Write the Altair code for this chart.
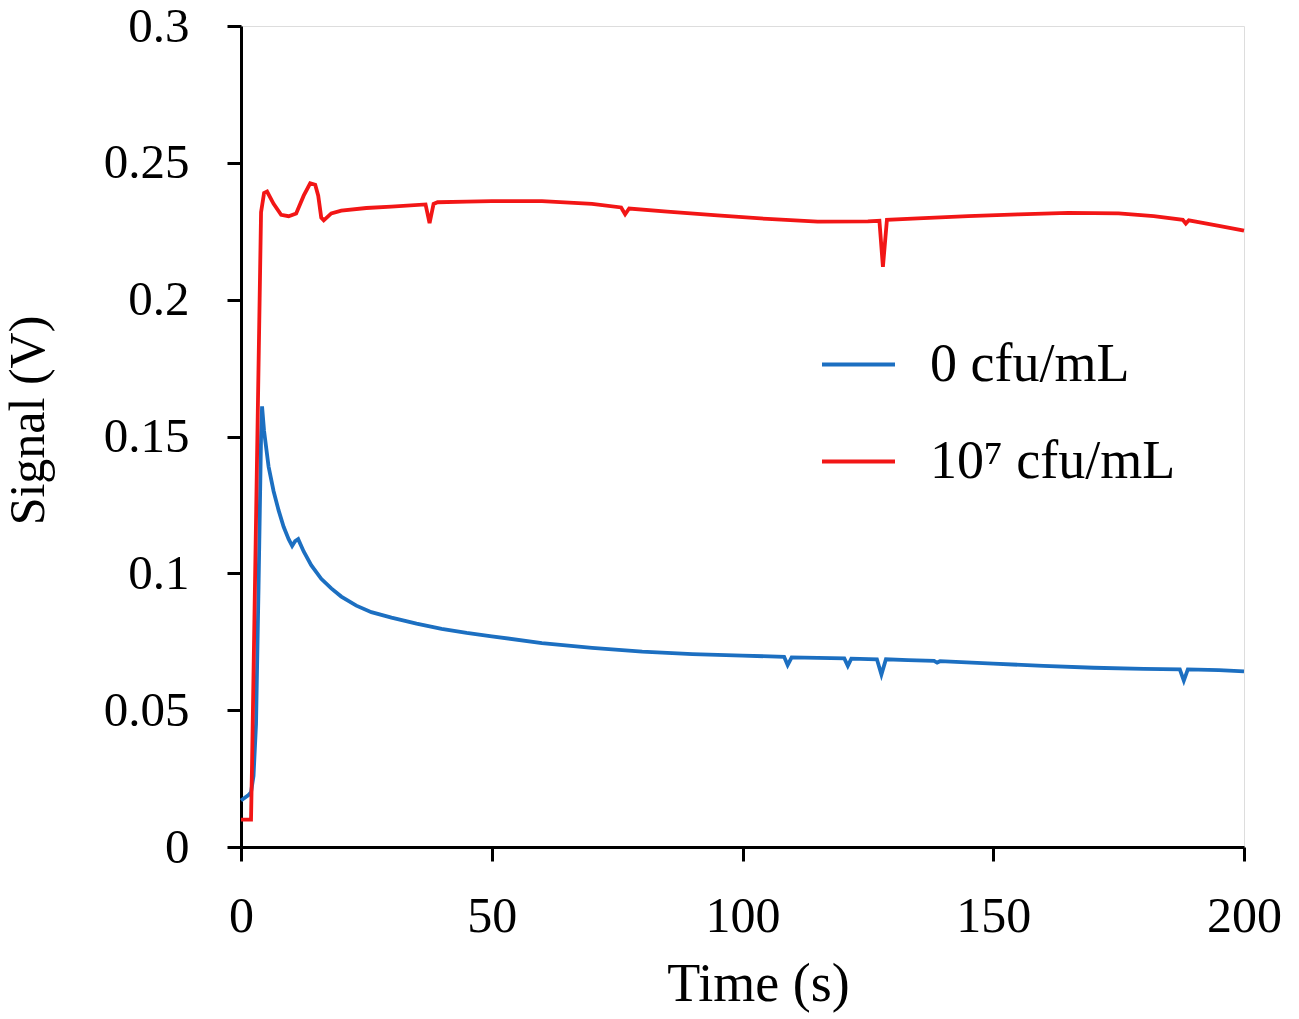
import altair as alt
import pandas as pd

series_names = ["0 cfu/mL", "10\u2077 cfu/mL"]
series_colors = ["#1c6fc1", "#f21616"]

# 0 cfu/mL (blue)
time_0 = [0, 1.5, 2.0, 2.5, 3.0, 3.5, 4.0, 4.2, 4.6, 5.5, 6.5, 7.5, 8.5, 9.5, 10.2,
          10.8, 11.4, 12.5, 14, 16, 18, 20, 23, 26, 30, 35, 40, 45, 50, 60, 70, 80,
          90, 100, 108.3, 109.0, 109.8, 115, 120.3, 121.0, 121.7, 126.8, 127.7, 128.6,
          133, 138.2, 138.8, 139.4, 150, 160, 170, 180, 187.2, 188.0, 188.8, 195, 200]
sig_0 = [0.017, 0.019, 0.020, 0.026, 0.045, 0.095, 0.150, 0.161, 0.152, 0.139, 0.130,
         0.123, 0.117, 0.1125, 0.1100, 0.1118, 0.1125, 0.108, 0.103, 0.098, 0.0945,
         0.0915, 0.0882, 0.0858, 0.0838, 0.0816, 0.0797, 0.0782, 0.0770, 0.0745,
         0.0728, 0.0714, 0.0705, 0.0699, 0.0695, 0.0665, 0.0693, 0.0691, 0.0689,
         0.0662, 0.0688, 0.0686, 0.0630, 0.0686, 0.0683, 0.0680, 0.0674, 0.0679,
         0.0670, 0.0662, 0.0655, 0.0651, 0.0649, 0.0608, 0.0649, 0.0646, 0.0642]

# 10^7 cfu/mL (red)
time_7 = [0, 2.0, 2.2, 4.0, 4.6, 5.2, 6.5, 8.0, 9.5, 11.0, 12.5, 13.8, 14.8, 15.4, 16.0,
          16.5, 18, 20, 25, 30, 36.8, 37.6, 38.4, 39.2, 45, 50, 60, 70, 75.8, 76.6,
          77.4, 85, 95, 105, 115, 125, 127.3, 128.0, 128.8, 135, 145, 155, 165, 175,
          182, 187.8, 188.4, 189.0, 195, 200]
sig_7 = [0.010, 0.010, 0.030, 0.232, 0.2390, 0.2395, 0.2350, 0.2310, 0.2305, 0.2315,
         0.2380, 0.2425, 0.2420, 0.2380, 0.2300, 0.2290, 0.2315, 0.2325, 0.2335,
         0.2340, 0.2348, 0.2280, 0.2350, 0.2356, 0.2358, 0.2360, 0.2360, 0.2350,
         0.2337, 0.2312, 0.2333, 0.2322, 0.2308, 0.2295, 0.2285, 0.2286, 0.2288,
         0.2120, 0.2292, 0.2297, 0.2305, 0.2312, 0.2317, 0.2315, 0.2305, 0.2292,
         0.2278, 0.2290, 0.2270, 0.2252]

x_ticks = [0, 50, 100, 150, 200]
y_ticks = [0, 0.05, 0.1, 0.15, 0.2, 0.25, 0.3]

df = pd.concat([
    pd.DataFrame({"t": time_0, "v": sig_0, "s": series_names[0], "o": 0}),
    pd.DataFrame({"t": time_7, "v": sig_7, "s": series_names[1], "o": 1}),
])

font = "Liberation Serif"

chart = alt.Chart(df).mark_line(strokeWidth=3.8).encode(
    x=alt.X("t:Q", scale=alt.Scale(domain=[0, 200], nice=False),
            axis=alt.Axis(title="Time (s)", values=x_ticks, grid=False,
                          domainColor="black", domainWidth=3, tickColor="black",
                          tickWidth=3, tickSize=14, labelPadding=30,
                          labelFontSize=50, labelFont=font, labelColor="black",
                          titleFont=font, titleFontSize=54, titleFontWeight="normal",
                          titleColor="black", titleX=517, titleY=153,
                          titleBaseline="alphabetic", labelFlush=False)),
    y=alt.Y("v:Q", scale=alt.Scale(domain=[0, 0.3], nice=False),
            axis=alt.Axis(title="Signal (V)", values=y_ticks, format="~g", grid=False,
                          domainColor="black", domainWidth=3, tickColor="black",
                          tickWidth=3, tickSize=14, labelPadding=38,
                          labelFontSize=49, labelFont=font, labelColor="black",
                          titleFont=font, titleFontSize=50, titleFontWeight="normal",
                          titleColor="black", titleX=-188, titleY=394,
                          titleBaseline="bottom", labelFlush=False)),
    color=alt.Color("s:N", scale=alt.Scale(domain=series_names, range=series_colors),
                    legend=alt.Legend(title=None, orient="none", legendX=579, legendY=300,
                                      symbolType="stroke", symbolSize=5329,
                                      symbolStrokeWidth=4, labelFont=font,
                                      labelFontSize=54, labelColor="black",
                                      labelOffset=33, rowPadding=31, labelLimit=0)),
    order="o:Q",
    detail="s:N",
).properties(
    width=1003, height=821,
    padding={"left": 233, "top": 18, "right": 47, "bottom": 168},
    autosize=alt.AutoSizeParams(type="none"),
).configure_view(stroke=None).configure(background="white")

chart.save("out.html", embed_options={"renderer": "svg", "actions": False})
